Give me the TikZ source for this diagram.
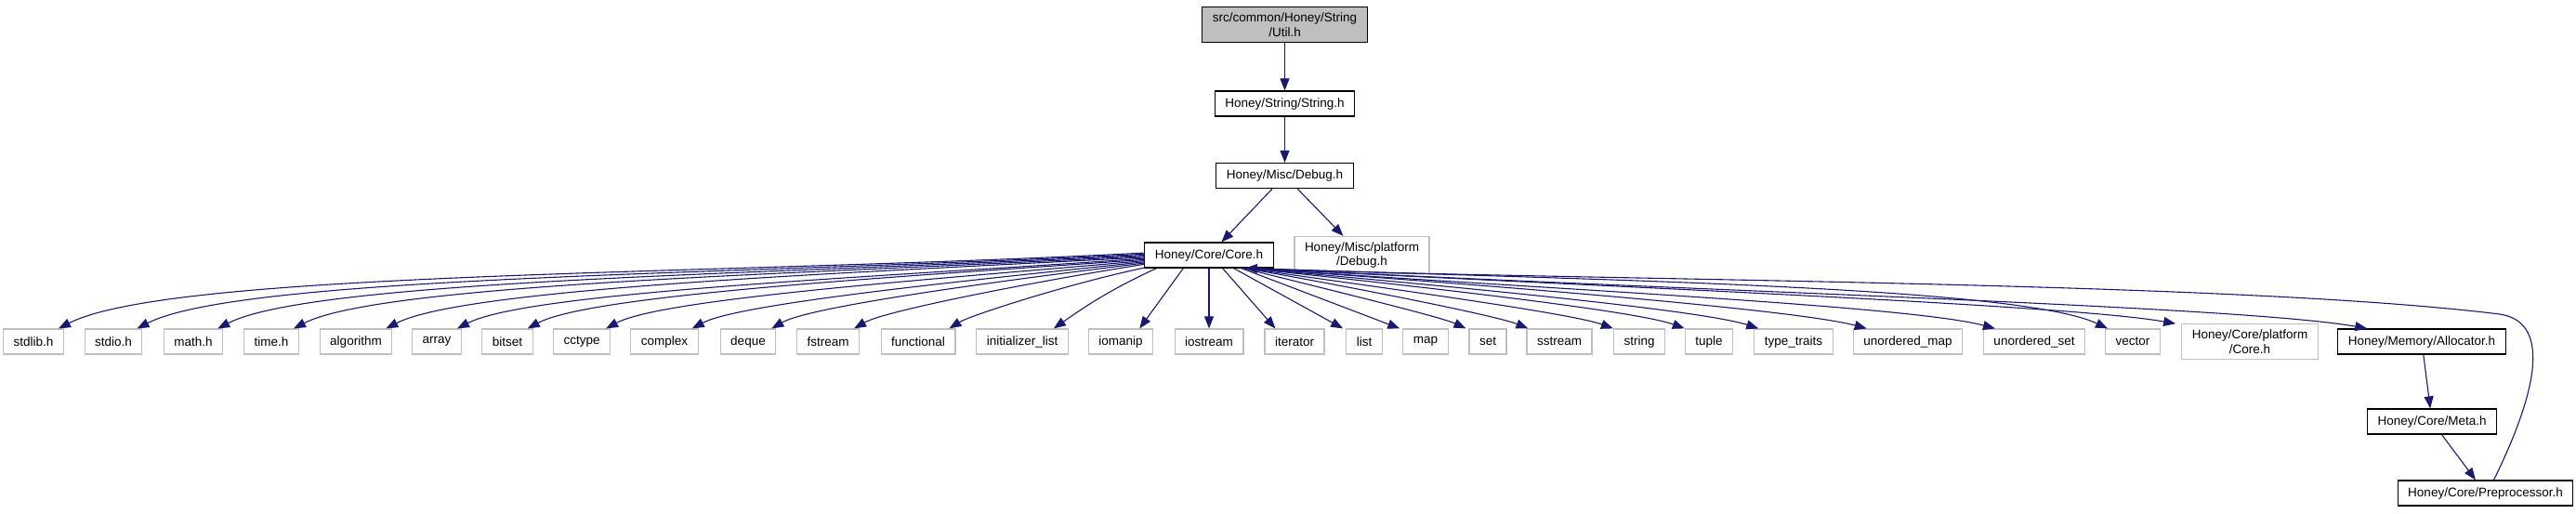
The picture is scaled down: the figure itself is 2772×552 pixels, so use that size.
\documentclass[tikz,border=0pt]{standalone}
\usepackage{fontspec}
\setmainfont{Liberation Sans}
\usetikzlibrary{arrows.meta}
\definecolor{edgeblue}{RGB}{25,25,112}
\definecolor{grey75}{RGB}{191,191,191}

\begin{document}
\begin{tikzpicture}[
  x=0.2pt, y=0.2pt,
  file/.style={rectangle, draw=black, line width=0.24pt, fill=white,
              align=center, inner xsep=2.2pt, inner ysep=1.2pt,
              minimum height=5.4pt, font=\fontsize{2.7}{3.1}\selectfont},
  sysfile/.style={file, draw=grey75},
  rootfile/.style={file, fill=grey75},
  arr/.style={-{Triangle[length=2.6pt,width=2pt]}, line width=0.22pt, color=edgeblue},
  lcurve/.style={out looseness=1.0, in looseness=0.3},
  rcurve/.style={out looseness=1.0, in looseness=0.3}
]
\useasboundingbox (0,0) rectangle (2772,552);

% ── top chain ─────────────
\node[rootfile] (utilh) at (1382.5,525.5) {src/common/Honey/String\\/Util.h};
\node[file] (stringh) at (1382.5,440.5) {Honey/String/String.h};
\node[file] (debugh) at (1382.5,363) {Honey/Misc/Debug.h};
\node[file] (coreh) at (1301,277.5) {Honey/Core/Core.h};
\node[sysfile] (pdebugh) at (1465.5,277.5) {Honey/Misc/platform\\/Debug.h};
\draw[arr] (utilh) -- (stringh);
\draw[arr] (stringh) -- (debugh);
\draw[arr] (debugh) -- (coreh);
\draw[arr] (debugh) -- (pdebugh);

% ── bottom row ─────────────
\node[sysfile] (stdlib) at (36,184.5) {stdlib.h};
\node[sysfile] (stdio) at (122,184.5) {stdio.h};
\node[sysfile] (math) at (208,184.5) {math.h};
\node[sysfile] (time) at (292,184.5) {time.h};
\node[sysfile] (algorithm) at (383,184.5) {algorithm};
\node[sysfile] (array) at (470,184.5) {array};
\node[sysfile] (bitset) at (546,184.5) {bitset};
\node[sysfile] (cctype) at (626,184.5) {cctype};
\node[sysfile] (complex) at (715,184.5) {complex};
\node[sysfile] (deque) at (805,184.5) {deque};
\node[sysfile] (fstream) at (891,184.5) {fstream};
\node[sysfile] (functional) at (988,184.5) {functional};
\node[sysfile] (initlist) at (1100,184.5) {initializer\_list};
\node[sysfile] (iomanip) at (1206,184.5) {iomanip};
\node[sysfile] (iostream) at (1301,184.5) {iostream};
\node[sysfile] (iterator) at (1393,184.5) {iterator};
\node[sysfile] (list) at (1468,184.5) {list};
\node[sysfile] (map) at (1534,184.5) {map};
\node[sysfile] (set) at (1601,184.5) {set};
\node[sysfile] (sstream) at (1678,184.5) {sstream};
\node[sysfile] (stdstring) at (1764,184.5) {string};
\node[sysfile] (tuple) at (1839,184.5) {tuple};
\node[sysfile] (typetraits) at (1930,184.5) {type\_traits};
\node[sysfile] (umap) at (2053,184.5) {unordered\_map};
\node[sysfile] (uset) at (2189,184.5) {unordered\_set};
\node[sysfile] (vector) at (2295,184.5) {vector};
\node[sysfile] (pcoreh) at (2421,184.5) {Honey/Core/platform\\/Core.h};
\node[file] (allocatorh) at (2606,184.5) {Honey/Memory/Allocator.h};
\node[file] (metah) at (2617,98.5) {Honey/Core/Meta.h};
\node[file] (preproch) at (2674.5,21.5) {Honey/Core/Preprocessor.h};

% ── Core.h, left side ─────────────
\draw[arr] (coreh.178) to[lcurve, out=183, in=27] ([shift={(-6,0)}]stdlib.north east);
\draw[arr] (coreh.179) to[lcurve, out=183, in=27] ([shift={(-6,0)}]stdio.north east);
\draw[arr] (coreh.180) to[lcurve, out=183, in=27] ([shift={(-6,0)}]math.north east);
\draw[arr] (coreh.181) to[lcurve, out=183, in=27] ([shift={(-6,0)}]time.north east);
\draw[arr] (coreh.182) to[lcurve, out=183, in=27] ([shift={(-7,0)}]algorithm.north east);
\draw[arr] (coreh.183) to[lcurve, out=184, in=27] ([shift={(-5,0)}]array.north east);
\draw[arr] (coreh.184) to[lcurve, out=184, in=28] ([shift={(-6,0)}]bitset.north east);
\draw[arr] (coreh.185) to[lcurve, out=185, in=28] ([shift={(-5,0)}]cctype.north east);
\draw[arr] (coreh.186) to[lcurve, out=186, in=28] ([shift={(-7,0)}]complex.north east);
\draw[arr] (coreh.187) to[lcurve, out=187, in=30] ([shift={(-5,0)}]deque.north east);
\draw[arr] (coreh.188) to[lcurve, out=189, in=30] ([shift={(-6,0)}]fstream.north east);
\draw[arr] (coreh.191) to[lcurve, out=192, in=32] ([shift={(-7,0)}]functional.north east);
\draw[arr] (coreh.194) to[out=205, in=35] ([shift={(-16,0)}]initlist.north east);
\draw[arr] (coreh.207) -- ([shift={(-15,0)}]iomanip.north east);
\draw[arr] (coreh) -- (iostream);

% ── Core.h, right side ─────────────
\draw[arr] (coreh.-44) -- ([shift={(12,0)}]iterator.north west);
\draw[arr] (coreh.-28) -- ([shift={(-3,0)}]list.north west);
\draw[arr] (coreh.-22) -- ([shift={(-3,0)}]map.north west);
\draw[arr] (coreh.-21) to[rcurve, out=-14, in=155] ([shift={(-3,0)}]set.north west);
\draw[arr] (coreh.-20) to[rcurve, out=-10, in=158] ([shift={(2,0)}]sstream.north west);
\draw[arr] (coreh.-20) to[rcurve, out=-8, in=160] (stdstring.north west);
\draw[arr] (coreh.-19) to[rcurve, out=-6, in=160] (tuple.north west);
\draw[arr] (coreh.-19) to[rcurve, out=-5, in=162] ([shift={(5,0)}]typetraits.north west);
\draw[arr] (coreh.-18) to[rcurve, out=-4, in=165] ([shift={(15,0)}]umap.north west);
\draw[arr] (coreh.-18) to[rcurve, out=-4, in=165] ([shift={(13,0)}]uset.north west);
\draw[arr] (coreh.-17) to[rcurve, out=-2, in=155] ([shift={(3,0)}]vector.north west);
\draw[arr] (coreh.-17) to[rcurve, out=-3, in=170] ([shift={(-6,0)}]pcoreh.north west);
\draw[arr] (coreh.-16) to[rcurve, out=-3, in=170] ([shift={(32,0)}]allocatorh.north west);

% ── Memory chain and back edge ─────────────
\coordinate (bend) at (2690,214);
\draw[arr] (allocatorh) -- (metah);
\draw[arr] (metah) -- (preproch);
\draw[arr] ([shift={(9,0)}]preproch.north) .. controls (2725,120) and (2750,205) .. (bend)
  .. controls (2400,250) and (1700,250) .. (coreh.-20);
\end{tikzpicture}
\end{document}
